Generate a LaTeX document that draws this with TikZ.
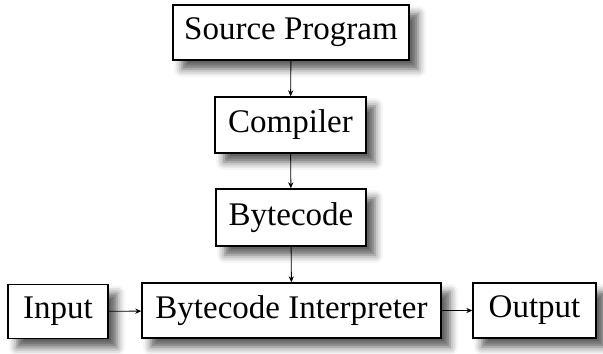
\documentclass[tikz,border=0pt]{standalone}
\usepackage{fontspec}
\setmainfont{Liberation Serif}
\usetikzlibrary{shadows.blur,arrows.meta}
\begin{document}
\begin{tikzpicture}[x=0.5pt,y=-0.5pt,
  box/.style={draw=black,line width=0.7pt,fill=white,inner sep=0pt,
    font=\fontsize{16.5}{19}\selectfont,
    blur shadow={shadow xshift=4.5pt,shadow yshift=-4.5pt,shadow blur radius=4pt,shadow opacity=65}},
  conn/.style={line width=0.45pt,-{Stealth[length=3pt,width=2.6pt]}}]
\useasboundingbox (0,0) rectangle (603,353);
\node[box,minimum width=118pt,minimum height=27.5pt] (src) at (291,32.5) {Source Program};
\node[box,minimum width=75.5pt,minimum height=28pt] (comp) at (290.5,125) {Compiler};
\node[box,minimum width=75pt,minimum height=28.5pt] (bc) at (291,217.5) {Bytecode};
\node[box,minimum width=50pt,minimum height=27pt] (in) at (58,311.5) {Input};
\node[box,minimum width=149.5pt,minimum height=27.5pt] (interp) at (291.5,310.5) {Bytecode Interpreter};
\node[box,minimum width=61.5pt,minimum height=27.5pt] (out) at (534.5,310.5) {Output};
\draw[conn] (src) -- (comp);
\draw[conn] (comp) -- (bc);
\draw[conn] (bc) -- (interp);
\draw[conn] (in) -- (interp);
\draw[conn] (interp) -- (out);
\end{tikzpicture}
\end{document}
